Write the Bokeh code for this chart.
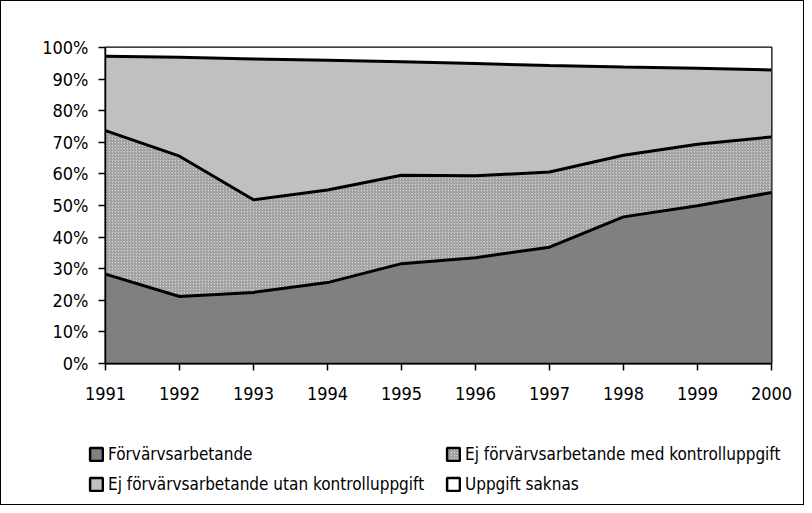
from bokeh.plotting import figure
from bokeh.layouts import column, row
from bokeh.models import (ColumnDataSource, Range1d, FixedTicker, PrintfTickFormatter,
                          Legend, LegendItem)
from bokeh.transform import stack
from bokeh.embed import file_html
from bokeh.resources import INLINE

years = [1991, 1992, 1993, 1994, 1995, 1996, 1997, 1998, 1999, 2000]
forv = [28.3, 21.2, 22.5, 25.6, 31.6, 33.5, 36.8, 46.4, 49.9, 54.1]
med = [45.4, 44.4, 29.3, 29.3, 28.0, 25.9, 23.8, 19.5, 19.5, 17.6]
utan = [23.5, 31.3, 44.6, 41.1, 35.9, 35.5, 33.7, 27.9, 24.0, 21.2]
saknas = [2.8, 3.1, 3.6, 4.0, 4.5, 5.1, 5.7, 6.2, 6.6, 7.1]
y_ticks = [0, 10, 20, 30, 40, 50, 60, 70, 80, 90, 100]

labels = ["Förvärvsarbetande",
          "Ej förvärvsarbetande med kontrolluppgift",
          "Ej förvärvsarbetande utan kontrolluppgift",
          "Uppgift saknas"]
names = ["forv", "med", "utan", "saknas"]
fills = ["#808080", "#d0d0d0", "#c0c0c0", "#ffffff"]
hatches = [None, "right_diagonal_line", None, None]

src = ColumnDataSource(dict(year=years, forv=forv, med=med, utan=utan, saknas=saknas))

FONT = "DejaVu Sans Condensed"
NAN = float("nan")


def hatch_kw(i):
    if hatches[i]:
        return dict(hatch_pattern=hatches[i], hatch_scale=3, hatch_color="#8a8a8a",
                    hatch_weight=1)
    return {}


p = figure(width=802, height=411, output_backend="svg", toolbar_location=None,
           x_range=Range1d(1991, 2000), y_range=Range1d(0, 100),
           min_border_left=104, min_border_right=32, min_border_top=46,
           min_border_bottom=49)
p.xgrid.visible = False
p.ygrid.visible = False
p.outline_line_color = "black"
p.outline_line_width = 2

for i, n in enumerate(names):
    y1 = stack(*names[:i]) if i > 0 else 0
    p.varea(x="year", y1=y1, y2=stack(*names[:i + 1]), source=src,
            fill_color=fills[i], **hatch_kw(i))

for i in range(3):
    p.line(x="year", y=stack(*names[:i + 1]), source=src, line_color="black",
           line_width=3)

for ax in (p.xaxis, p.yaxis):
    ax.axis_line_color = "black"
    ax.axis_line_width = 1.5
    ax.major_tick_line_color = "black"
    ax.major_tick_line_width = 1.5
    ax.major_tick_out = 7
    ax.major_tick_in = 0
    ax.minor_tick_line_color = None
    ax.major_label_text_font = FONT
    ax.major_label_text_font_size = "18px"
    ax.major_label_text_color = "black"

p.xaxis.ticker = FixedTicker(ticks=years)
p.xaxis.major_label_standoff = 16
p.yaxis.ticker = FixedTicker(ticks=y_ticks)
p.yaxis.formatter = PrintfTickFormatter(format="%d%%")
p.yaxis.major_label_standoff = 10

# legend in its own figure below the chart
lf = figure(width=802, height=92, output_backend="svg", toolbar_location=None,
            x_range=Range1d(0, 1), y_range=Range1d(0, 1),
            x_axis_location=None, y_axis_location=None,
            min_border=0, outline_line_color=None)
lf.xgrid.visible = False
lf.ygrid.visible = False

items = []
for i, n in enumerate(names):
    r = lf.quad(left=[NAN], right=[NAN], top=[NAN], bottom=[NAN], fill_color=fills[i],
                line_color="black", line_width=2.5, **hatch_kw(i))
    items.append(LegendItem(label=labels[i], renderers=[r]))

legend = Legend(items=items, ncols=2, orientation="horizontal", location=(87, 10),
                padding=0, margin=0, spacing=10, label_standoff=4, label_width=327,
                glyph_width=16, glyph_height=16, border_line_alpha=0,
                background_fill_alpha=0, label_text_font=FONT,
                label_text_font_size="17px", label_text_color="black")
lf.add_layout(legend, "center")

layout = column(p, row(lf), spacing=0)
layout.styles = {"border": "1px solid black"}

open("out.html", "w").write(file_html(layout, INLINE))
